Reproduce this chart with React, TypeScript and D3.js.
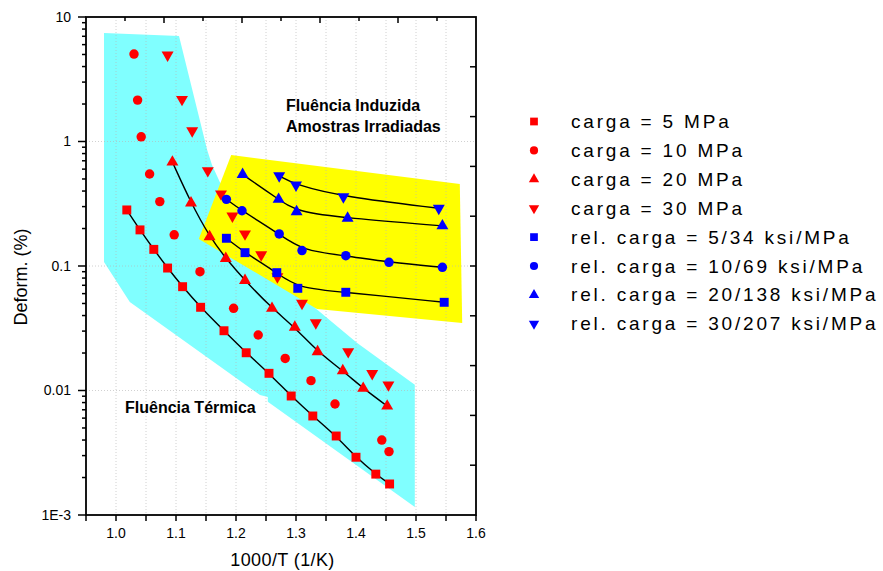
import React from "react";
import * as d3 from "d3";

const W = 883;
const H = 571;
const FONT = "'Liberation Sans', Arial, sans-serif";

// axis domains
const xDomain = [0.95, 1.6];
const yDomain = [0.001, 10];
const xTickLabels = ["1.0", "1.1", "1.2", "1.3", "1.4", "1.5", "1.6"];
const xTickValues = [1.0, 1.1, 1.2, 1.3, 1.4, 1.5, 1.6];
const yTickValues = [10, 1, 0.1, 0.01, 0.001];
const yTickLabels = ["10", "1", "0.1", "0.01", "1E-3"];

// red series (thermal creep)
const redSquareX = [1.018, 1.04, 1.063, 1.086, 1.111, 1.141, 1.18, 1.217, 1.255, 1.292, 1.328, 1.367, 1.4, 1.433, 1.456];
const redSquareY = [0.282, 0.195, 0.136, 0.0963, 0.0682, 0.0466, 0.0302, 0.0201, 0.01374, 0.00903, 0.00624, 0.00431, 0.00291, 0.00213, 0.001775];
const redCircleX = [1.03, 1.036, 1.042, 1.056, 1.073, 1.097, 1.14, 1.196, 1.237, 1.282, 1.325, 1.365, 1.443, 1.455];
const redCircleY = [5.04, 2.15, 1.09, 0.548, 0.329, 0.178, 0.09, 0.0457, 0.0279, 0.0181, 0.012, 0.00779, 0.004, 0.00323];
const redUpX = [1.094, 1.125, 1.156, 1.183, 1.215, 1.26, 1.298, 1.336, 1.378, 1.412, 1.452];
const redUpY = [0.684, 0.321, 0.172, 0.115, 0.0765, 0.0457, 0.0322, 0.0205, 0.0144, 0.0104, 0.0075];
const redDownX = [1.086, 1.11, 1.127, 1.153, 1.175, 1.194, 1.215, 1.242, 1.269, 1.31, 1.333, 1.387, 1.427, 1.454];
const redDownY = [4.95, 2.18, 1.22, 0.583, 0.379, 0.252, 0.181, 0.123, 0.082, 0.0502, 0.035, 0.0205, 0.0137, 0.0111];

// blue series (irradiated)
const blueSquareX = [1.184, 1.215, 1.268, 1.303, 1.383, 1.547];
const blueSquareY = [0.167, 0.128, 0.0884, 0.0662, 0.0615, 0.0511];
const blueCircleX = [1.184, 1.21, 1.272, 1.31, 1.383, 1.455, 1.544];
const blueCircleY = [0.343, 0.278, 0.181, 0.133, 0.121, 0.107, 0.0976];
const blueUpX = [1.211, 1.271, 1.301, 1.386, 1.544];
const blueUpY = [0.543, 0.343, 0.273, 0.242, 0.21];
const blueDownX = [1.272, 1.3, 1.379, 1.538];
const blueDownY = [0.531, 0.447, 0.36, 0.291];

// shaded regions
const cyanX = [0.98, 1.105, 1.152, 1.16, 1.173, 1.332, 1.402, 1.498, 1.498, 1.253, 1.253, 1.24, 1.023, 0.98];
const cyanY = [7.44, 7.04, 0.855, 0.647, 0.473, 0.046, 0.0241, 0.0111, 0.00116, 0.00813, 0.00887, 0.0092, 0.0514, 0.1077];
const yellowX = [1.192, 1.573, 1.577, 1.335, 1.138];
const yellowY = [0.779, 0.456, 0.0349, 0.0452, 0.165];

const legendLabels = [
  "carga = 5 MPa",
  "carga = 10 MPa",
  "carga = 20 MPa",
  "carga = 30 MPa",
  "rel. carga = 5/34 ksi/MPa",
  "rel. carga = 10/69 ksi/MPa",
  "rel. carga = 20/138 ksi/MPa",
  "rel. carga = 30/207 ksi/MPa",
];

const RED = "#ff0000";
const BLUE = "#0000ff";
const CYAN = "#80ffff";
const YELLOW = "#ffff00";

type Shape = "square" | "circle" | "up" | "down";

const zip = (xs: number[], ys: number[]) => xs.map((x, i) => [x, ys[i]] as [number, number]);

const series = [
  { xs: redSquareX, ys: redSquareY, shape: "square" as Shape, color: RED, fit: true },
  { xs: redCircleX, ys: redCircleY, shape: "circle" as Shape, color: RED, fit: false },
  { xs: redUpX, ys: redUpY, shape: "up" as Shape, color: RED, fit: true },
  { xs: redDownX, ys: redDownY, shape: "down" as Shape, color: RED, fit: false },
  { xs: blueSquareX, ys: blueSquareY, shape: "square" as Shape, color: BLUE, fit: true },
  { xs: blueCircleX, ys: blueCircleY, shape: "circle" as Shape, color: BLUE, fit: true },
  { xs: blueUpX, ys: blueUpY, shape: "up" as Shape, color: BLUE, fit: true },
  { xs: blueDownX, ys: blueDownY, shape: "down" as Shape, color: BLUE, fit: true },
];

function symbolPath(shape: Shape, scale: number) {
  const sizes: Record<Shape, number> = { square: 80, circle: 70, up: 62, down: 62 };
  const type =
    shape === "square" ? d3.symbolSquare : shape === "circle" ? d3.symbolCircle : d3.symbolTriangle;
  return d3.symbol().type(type).size(sizes[shape] * scale)() as string;
}

export default function App() {
  const left = 86, right = 476, top = 17, bottom = 515;
  const x = d3.scaleLinear().domain(xDomain).range([left, right]);
  const y = d3.scaleLog().domain(yDomain).range([bottom, top]);
  const topAxis = d3.scaleLinear().domain([0, 10]).range([left, right]);
  const rightAxis = d3.scaleLinear().domain([0, 10]).range([bottom, top]);

  const poly = (xs: number[], ys: number[]) =>
    (d3.line()(zip(xs, ys).map(([a, b]) => [x(a), y(b)])) as string) + "Z";
  const fitLine = d3
    .line<[number, number]>()
    .x((d) => x(d[0]))
    .y((d) => y(d[1]))
    .curve(d3.curveBasis);

  const xMinor = d3.range(0.95, 1.6001, 0.05);
  const xGrid = d3.range(1.0, 1.5501, 0.05);
  const yMinor: number[] = [];
  for (let e = -3; e < 1; e++) for (let m = 2; m <= 9; m++) yMinor.push(m * Math.pow(10, e));

  const legendTop = 121.5;
  const legendStep = 28.9;

  return (
    <svg
      width={W}
      height={H}
      style={{ position: "absolute", left: 0, top: 0, background: "#fff" }}
      fontFamily={FONT}
    >
      <rect width={W} height={H} fill="#fff" />
      {/* shaded regions */}
      <path d={poly(cyanX, cyanY)} fill={CYAN} />
      <path d={poly(yellowX, yellowY)} fill={YELLOW} />

      {/* grid */}
      <g stroke="#b8b8b8" strokeWidth={0.8} strokeDasharray="1,2" opacity={0.8}>
        {xGrid.map((v, i) => (
          <line key={"gx" + i} x1={x(v)} x2={x(v)} y1={top} y2={bottom} />
        ))}
        {[1, 0.1, 0.01].map((v, i) => (
          <line key={"gy" + i} x1={left} x2={right} y1={y(v)} y2={y(v)} />
        ))}
      </g>

      {/* fit curves */}
      {series
        .filter((s) => s.fit)
        .map((s, i) => (
          <path key={"fit" + i} d={fitLine(zip(s.xs, s.ys)) as string} fill="none" stroke="#000" strokeWidth={1.4} />
        ))}

      {/* markers */}
      {series.map((s, si) =>
        zip(s.xs, s.ys).map(([a, b], i) => (
          <path
            key={`m${si}-${i}`}
            d={symbolPath(s.shape, 1)}
            transform={`translate(${x(a)},${y(b)})${s.shape === "down" ? " rotate(180)" : ""}`}
            fill={s.color}
          />
        ))
      )}

      {/* frame */}
      <rect x={left} y={top} width={right - left} height={bottom - top} fill="none" stroke="#000" strokeWidth={1.8} />

      {/* bottom axis ticks */}
      <g stroke="#000" strokeWidth={1.5}>
        {xMinor.map((v, i) => (
          <line key={"bt" + i} x1={x(v)} x2={x(v)} y1={bottom} y2={bottom + 6} />
        ))}
        {d3.range(1, 10).map((k) => (
          <line key={"tt" + k} x1={topAxis(k)} x2={topAxis(k)} y1={top} y2={top + (k % 2 === 0 ? 6 : 4)} />
        ))}
        {d3.range(1, 10).map((k) => (
          <line key={"rt" + k} x1={right} x2={right - 6} y1={rightAxis(k)} y2={rightAxis(k)} />
        ))}
        {yTickValues.map((v, i) => (
          <line key={"ly" + i} x1={left} x2={left - 8} y1={y(v)} y2={y(v)} />
        ))}
        {yMinor.map((v, i) => (
          <line key={"lm" + i} x1={left} x2={left - 4} y1={y(v)} y2={y(v)} />
        ))}
      </g>

      {/* tick labels */}
      <g fontSize={14} fill="#000">
        {xTickValues.map((v, i) => (
          <text key={"xl" + i} x={x(v)} y={538} textAnchor="middle">
            {xTickLabels[i]}
          </text>
        ))}
        {yTickValues.map((v, i) => (
          <text key={"yl" + i} x={71} y={y(v)} dy="0.35em" textAnchor="end">
            {yTickLabels[i]}
          </text>
        ))}
      </g>

      {/* axis titles */}
      <text x={282.5} y={566} fontSize={18} textAnchor="middle" letterSpacing={0.4}>
        1000/T (1/K)
      </text>
      <text transform={`translate(27,277) rotate(-90)`} fontSize={18} textAnchor="middle">
        Deform. (%)
      </text>

      {/* annotations */}
      <g fontSize={16} fontWeight="bold" fill="#000">
        <text x={286} y={110.5}>Fluência Induzida</text>
        <text x={286} y={132}>Amostras Irradiadas</text>
        <text x={125} y={413}>Fluência Térmica</text>
      </g>

      {/* legend */}
      {series.map((s, i) => {
        const cy = legendTop + i * legendStep;
        return (
          <g key={"lg" + i}>
            <path
              d={symbolPath(s.shape, 0.75)}
              transform={`translate(534,${cy})${s.shape === "down" ? " rotate(180)" : ""}`}
              fill={s.color}
            />
            <text x={571} y={cy + 6.5} fontSize={19} letterSpacing={2.8} fill="#000">
              {legendLabels[i]}
            </text>
          </g>
        );
      })}
    </svg>
  );
}
